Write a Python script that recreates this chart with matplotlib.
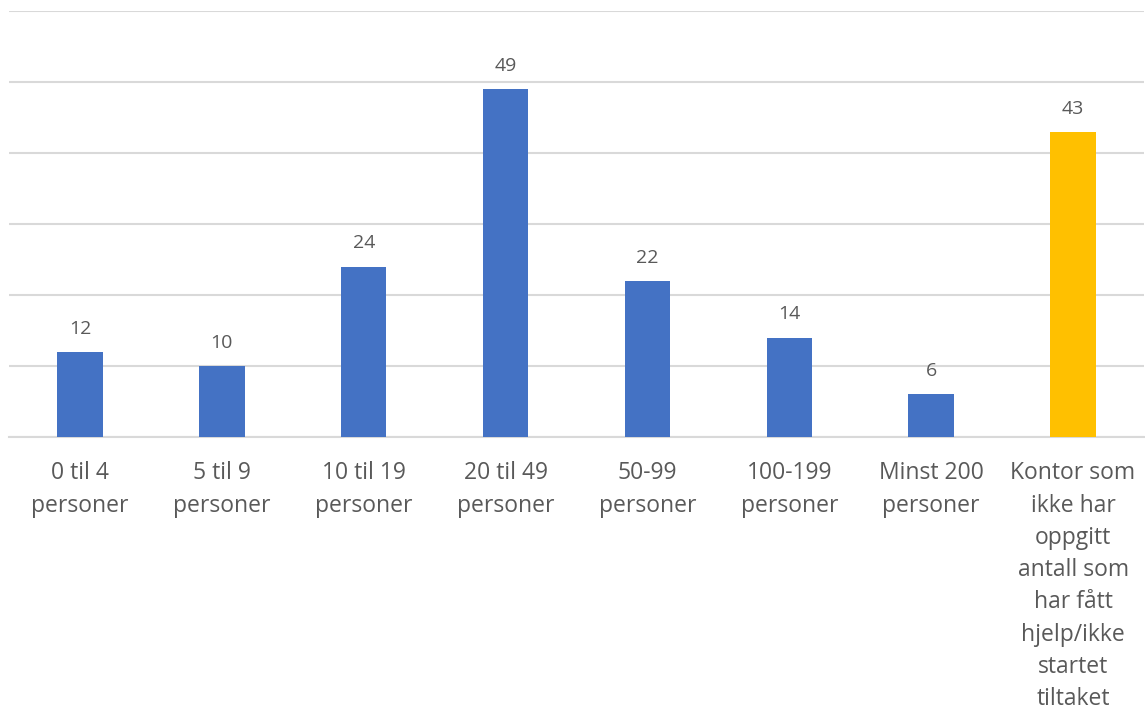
import matplotlib.pyplot as plt

categories = ['0 til 4\npersoner', '5 til 9\npersoner', '10 til 19\npersoner',
              '20 til 49\npersoner', '50-99\npersoner', '100-199\npersoner',
              'Minst 200\npersoner',
              'Kontor som\nikke har\noppgitt\nantall som\nhar fått\nhjelp/ikke\nstartet\ntiltaket']
values = [12, 10, 24, 49, 22, 14, 6, 43]
colors = ['#4472C4'] * 7 + ['#FFC000']

text_color = '#595959'

fig = plt.figure(figsize=(11.45, 7.13), dpi=100)
ax = fig.add_axes([9 / 1145, 276 / 713, 1135 / 1145, 426 / 713])

x = range(len(categories))
bars = ax.bar(x, values, width=0.32, color=colors, zorder=3)

for bar, v in zip(bars, values):
    ax.text(bar.get_x() + bar.get_width() / 2, v + 2.0, str(v),
            ha='center', va='bottom', fontsize=14, color=text_color,
            family='Open Sans')

ax.set_xlim(-0.5, len(categories) - 0.5)
ax.set_ylim(0, 60)
ax.set_yticks(range(0, 61, 10))
ax.yaxis.grid(True, color='#D9D9D9', linewidth=1.5, zorder=0)
ax.tick_params(axis='y', left=False, labelleft=False)
ax.tick_params(axis='x', bottom=False, pad=14)
ax.set_xticks(list(x))
ax.set_xticklabels(categories, fontsize=16.5, color=text_color,
                   family='Open Sans', linespacing=1.46, va='top')

for side in ['top', 'right', 'left']:
    ax.spines[side].set_visible(False)
ax.spines['bottom'].set_color('#D9D9D9')
ax.spines['bottom'].set_linewidth(1.5)

fig.savefig('out.png', dpi=100)
